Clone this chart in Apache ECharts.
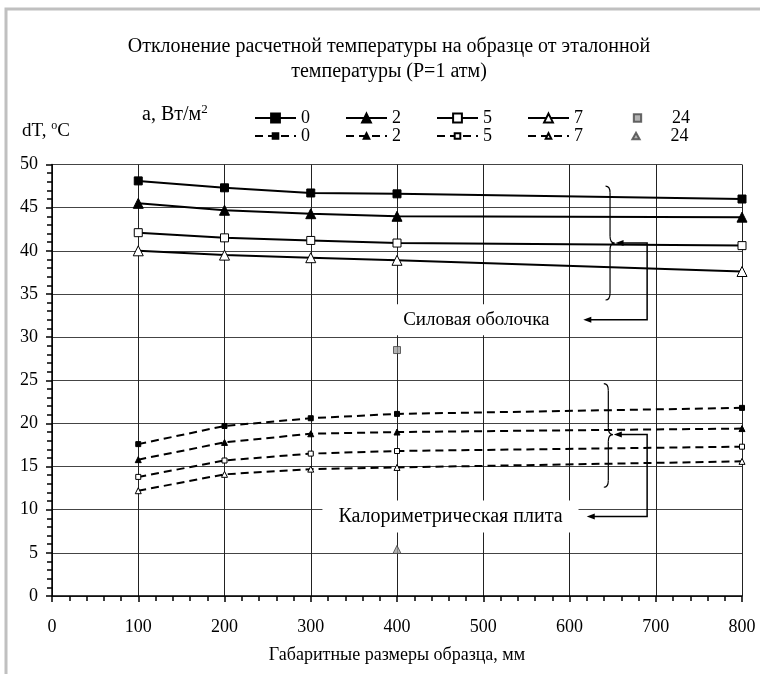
<!DOCTYPE html>
<html>
<head>
<meta charset="utf-8">
<script src="https://cdn.jsdelivr.net/npm/echarts@6/dist/echarts.min.js"></script>
<style>
html,body{margin:0;padding:0;background:#fff}
#main{width:760px;height:674px}
</style>
</head>
<body>
<div id="main"></div>
<script>
// sample sizes, mm
var sizes = [100, 200, 300, 400, 800];
// power shell (solid lines), a = 0, 2, 5, 7 W/m2
var shell0 = [48.1, 47.3, 46.7, 46.6, 46.0];
var shell2 = [45.5, 44.7, 44.3, 44.0, 43.9];
var shell5 = [42.1, 41.5, 41.2, 40.9, 40.6];
var shell7 = [40.0, 39.5, 39.2, 38.9, 37.6];
// calorimetric plate (dashed lines)
var plate0 = [17.6, 19.7, 20.6, 21.1, 21.8];
var plate2 = [15.8, 17.8, 18.8, 19.0, 19.4];
var plate5 = [13.8, 15.7, 16.5, 16.8, 17.3];
var plate7 = [12.2, 14.1, 14.7, 14.9, 15.6];
// a = 24, single points
var size24 = [400];
var shell24 = [28.5];
var plate24 = [5.4];
var rates = ['0', '2', '5', '7', '24'];

var FONT = 'Liberation Serif';

function pairs(xs, vals) {
    return vals.map(function (v, i) { return [xs[i], v]; });
}

function solidLine(name, vals, symbol, filled) {
    return {
        name: name, type: 'line', data: pairs(sizes, vals),
        symbol: symbol, symbolSize: symbol == 'triangle' ? 10 : 8,
        showAllSymbol: true,
        lineStyle: {color: '#000', width: 2},
        itemStyle: {color: filled ? '#000' : '#fff', borderColor: '#000', borderWidth: 1},
        z: 4
    };
}
function dashLine(name, vals, symbol, filled) {
    return {
        name: name, type: 'line', data: pairs(sizes, vals),
        symbol: symbol, symbolSize: symbol == 'triangle' ? 6 : 5,
        showAllSymbol: true,
        lineStyle: {color: '#000', width: 2, type: [8, 5]},
        itemStyle: {color: filled ? '#000' : '#fff', borderColor: '#000', borderWidth: 1},
        z: 4
    };
}

var sq = 'path://M0,0M12,12M2,2L10,2L10,10L2,10Z';
var tri = 'path://M0,0M10,10M5,1L9.5,9L0.5,9Z';
var legText = {fontFamily: FONT, fontSize: 18, color: '#000'};
function legendRow(prefix, top, h, h24) {
    var main = {
        left: 249, top: top, itemWidth: 41, itemHeight: h, itemGap: 35,
        selectedMode: false, textStyle: legText,
        formatter: function (n) { return n.split(' ')[1]; },
        data: rates.slice(0, 4).map(function (r) { return prefix + r; })
    };
    var last = {
        left: 626, top: top, itemWidth: 41, itemHeight: h24,
        selectedMode: false, textStyle: {fontFamily: FONT, fontSize: 18, color: '#000', padding: [0, 0, 0, 9]},
        formatter: function (n) { return n.split(' ')[1]; },
        data: [{name: prefix + rates[4], icon: prefix == 's ' ? sq : tri}]
    };
    return [main, last];
}

var chart = echarts.init(document.getElementById('main'));
var option = {
    animation: false,
    grid: {left: 52, right: 18, top: 164.5, bottom: 78},
    legend: legendRow('s ', 104, 11, 11).concat(legendRow('p ', 122, 7, 8)),
    xAxis: {
        type: 'value', min: 0, max: 800, interval: 100,
        name: 'Габаритные размеры образца, мм', nameLocation: 'middle', nameGap: 50,
        nameTextStyle: {fontFamily: FONT, fontSize: 18, color: '#000'},
        axisLine: {lineStyle: {color: '#000', width: 1.5}},
        axisTick: {length: 6, lineStyle: {color: '#000', width: 1.5}},
        minorTick: {show: true, splitNumber: 5, length: 5, lineStyle: {color: '#000', width: 1.5}},
        splitLine: {lineStyle: {color: '#222', width: 1}},
        axisLabel: {fontFamily: FONT, fontSize: 18, color: '#000', margin: 22}
    },
    yAxis: {
        type: 'value', min: 0, max: 50, interval: 5,
        axisLine: {lineStyle: {color: '#000', width: 1.5}},
        axisTick: {length: 6, lineStyle: {color: '#000', width: 1.5}},
        minorTick: {show: true, splitNumber: 5, length: 5, lineStyle: {color: '#000', width: 1.5}},
        splitLine: {lineStyle: {color: '#444', width: 1}},
        axisLabel: {fontFamily: FONT, fontSize: 18, color: '#000', margin: 14}
    },
    series: [
        solidLine('s ' + rates[0], shell0, 'rect', true),
        solidLine('s ' + rates[1], shell2, 'triangle', true),
        solidLine('s ' + rates[2], shell5, 'rect', false),
        solidLine('s ' + rates[3], shell7, 'triangle', false),
        {
            name: 's ' + rates[4], type: 'scatter', data: pairs(size24, shell24),
            symbol: 'rect', symbolSize: 7, z: 5,
            itemStyle: {color: '#a0a0a0', borderColor: '#444', borderWidth: 1}
        },
        dashLine('p ' + rates[0], plate0, 'rect', true),
        dashLine('p ' + rates[1], plate2, 'triangle', true),
        dashLine('p ' + rates[2], plate5, 'rect', false),
        dashLine('p ' + rates[3], plate7, 'triangle', false),
        {
            name: 'p ' + rates[4], type: 'scatter', data: pairs(size24, plate24),
            symbol: 'triangle', symbolSize: 8, z: 5,
            itemStyle: {color: '#a0a0a0', borderColor: '#444', borderWidth: 1}
        }
    ]
};
chart.setOption(option);

// annotations placed in data coordinates
function px(x, y) { return chart.convertToPixel({gridIndex: 0}, [x, y]); }

function brace(cx, yTop, yMid, yBot, w) {
    var st = {stroke: '#000', lineWidth: 1.2, fill: null};
    return [
        {type: 'bezierCurve', shape: {x1: cx - w, y1: yTop, cpx1: cx - w * 0.2, cpy1: yTop, cpx2: cx, cpy2: yTop + w * 0.5, x2: cx, y2: yTop + w * 1.5}, style: st, z: 10},
        {type: 'line', shape: {x1: cx, y1: yTop + w * 1.5, x2: cx, y2: yMid - w * 1.5}, style: st, z: 10},
        {type: 'bezierCurve', shape: {x1: cx, y1: yMid - w * 1.5, cpx1: cx, cpy1: yMid - w * 0.5, cpx2: cx + w * 0.2, cpy2: yMid, x2: cx + w, y2: yMid}, style: st, z: 10},
        {type: 'bezierCurve', shape: {x1: cx + w, y1: yMid, cpx1: cx + w * 0.2, cpy1: yMid, cpx2: cx, cpy2: yMid + w * 0.5, x2: cx, y2: yMid + w * 1.5}, style: st, z: 10},
        {type: 'line', shape: {x1: cx, y1: yMid + w * 1.5, x2: cx, y2: yBot - w * 1.5}, style: st, z: 10},
        {type: 'bezierCurve', shape: {x1: cx, y1: yBot - w * 1.5, cpx1: cx, cpy1: yBot - w * 0.5, cpx2: cx - w * 0.2, cpy2: yBot, x2: cx - w, y2: yBot}, style: st, z: 10}
    ];
}
function arrowHead(x, y) {
    return {type: 'polygon', shape: {points: [[x, y], [x + 8, y - 3], [x + 8, y + 3]]}, style: {fill: '#000'}, z: 11};
}
function callout(bx, yTop, yMid, yBot, turnX, textX, textY, tipX, label, fs) {
    var t = px(bx, yTop), m = px(bx, yMid), b = px(bx, yBot);
    var turn = px(turnX, yMid)[0];
    var tp = px(textX, textY), tip = px(tipX, textY)[0];
    var cx = t[0], w = 4.5;
    var els = brace(cx, t[1], m[1], b[1], w);
    els.push({type: 'polyline', shape: {points: [[cx + w + 4, m[1]], [turn, m[1]], [turn, tp[1]], [tip + 6, tp[1]]]},
        style: {stroke: '#000', lineWidth: 1.5, fill: null}, z: 10});
    els.push(arrowHead(cx + w + 1, m[1]));
    els.push(arrowHead(tip, tp[1]));
    els.push({type: 'text', x: tp[0], y: tp[1], z: 12,
        style: {text: label, fontFamily: FONT, fontSize: fs, fill: '#000', align: 'center', verticalAlign: 'middle',
            backgroundColor: '#fff', padding: [6, 16]}});
    return els;
}

var g = [
    {type: 'polyline', shape: {points: [[6, 674], [6, 9], [760, 9]]}, style: {stroke: '#c0c0c0', lineWidth: 3, fill: null}},
    {type: 'text', x: 389, y: 47, style: {text: 'Отклонение расчетной температуры на образце от эталонной', fontFamily: FONT, fontSize: 20, fill: '#000', align: 'center', verticalAlign: 'middle'}},
    {type: 'text', x: 389, y: 72, style: {text: 'температуры (P=1 атм)', fontFamily: FONT, fontSize: 20, fill: '#000', align: 'center', verticalAlign: 'middle'}},
    {type: 'text', x: 142, y: 115, style: {text: '{n|a, Вт/м}{s|2}', fontFamily: FONT, verticalAlign: 'middle',
        rich: {n: {fontFamily: FONT, fontSize: 20, fill: '#000'}, s: {fontFamily: FONT, fontSize: 13, fill: '#000', verticalAlign: 'top', padding: [0, 0, 10, 0]}}}},
    {type: 'text', x: 22, y: 131, style: {text: '{n|dT, }{s|o}{n|C}', fontFamily: FONT, verticalAlign: 'middle',
        rich: {n: {fontFamily: FONT, fontSize: 19, fill: '#000'}, s: {fontFamily: FONT, fontSize: 12, fill: '#000', verticalAlign: 'top', padding: [0, 0, 10, 0]}}}}
];
g = g.concat(callout(647, 47.5, 40.9, 34.3, 690, 492, 32.0, 616, 'Силовая оболочка', 19));
g = g.concat(callout(645, 24.6, 18.7, 12.6, 690, 462, 9.2, 620, 'Калориметрическая плита', 20));
chart.setOption({graphic: g});
</script>
</body>
</html>
